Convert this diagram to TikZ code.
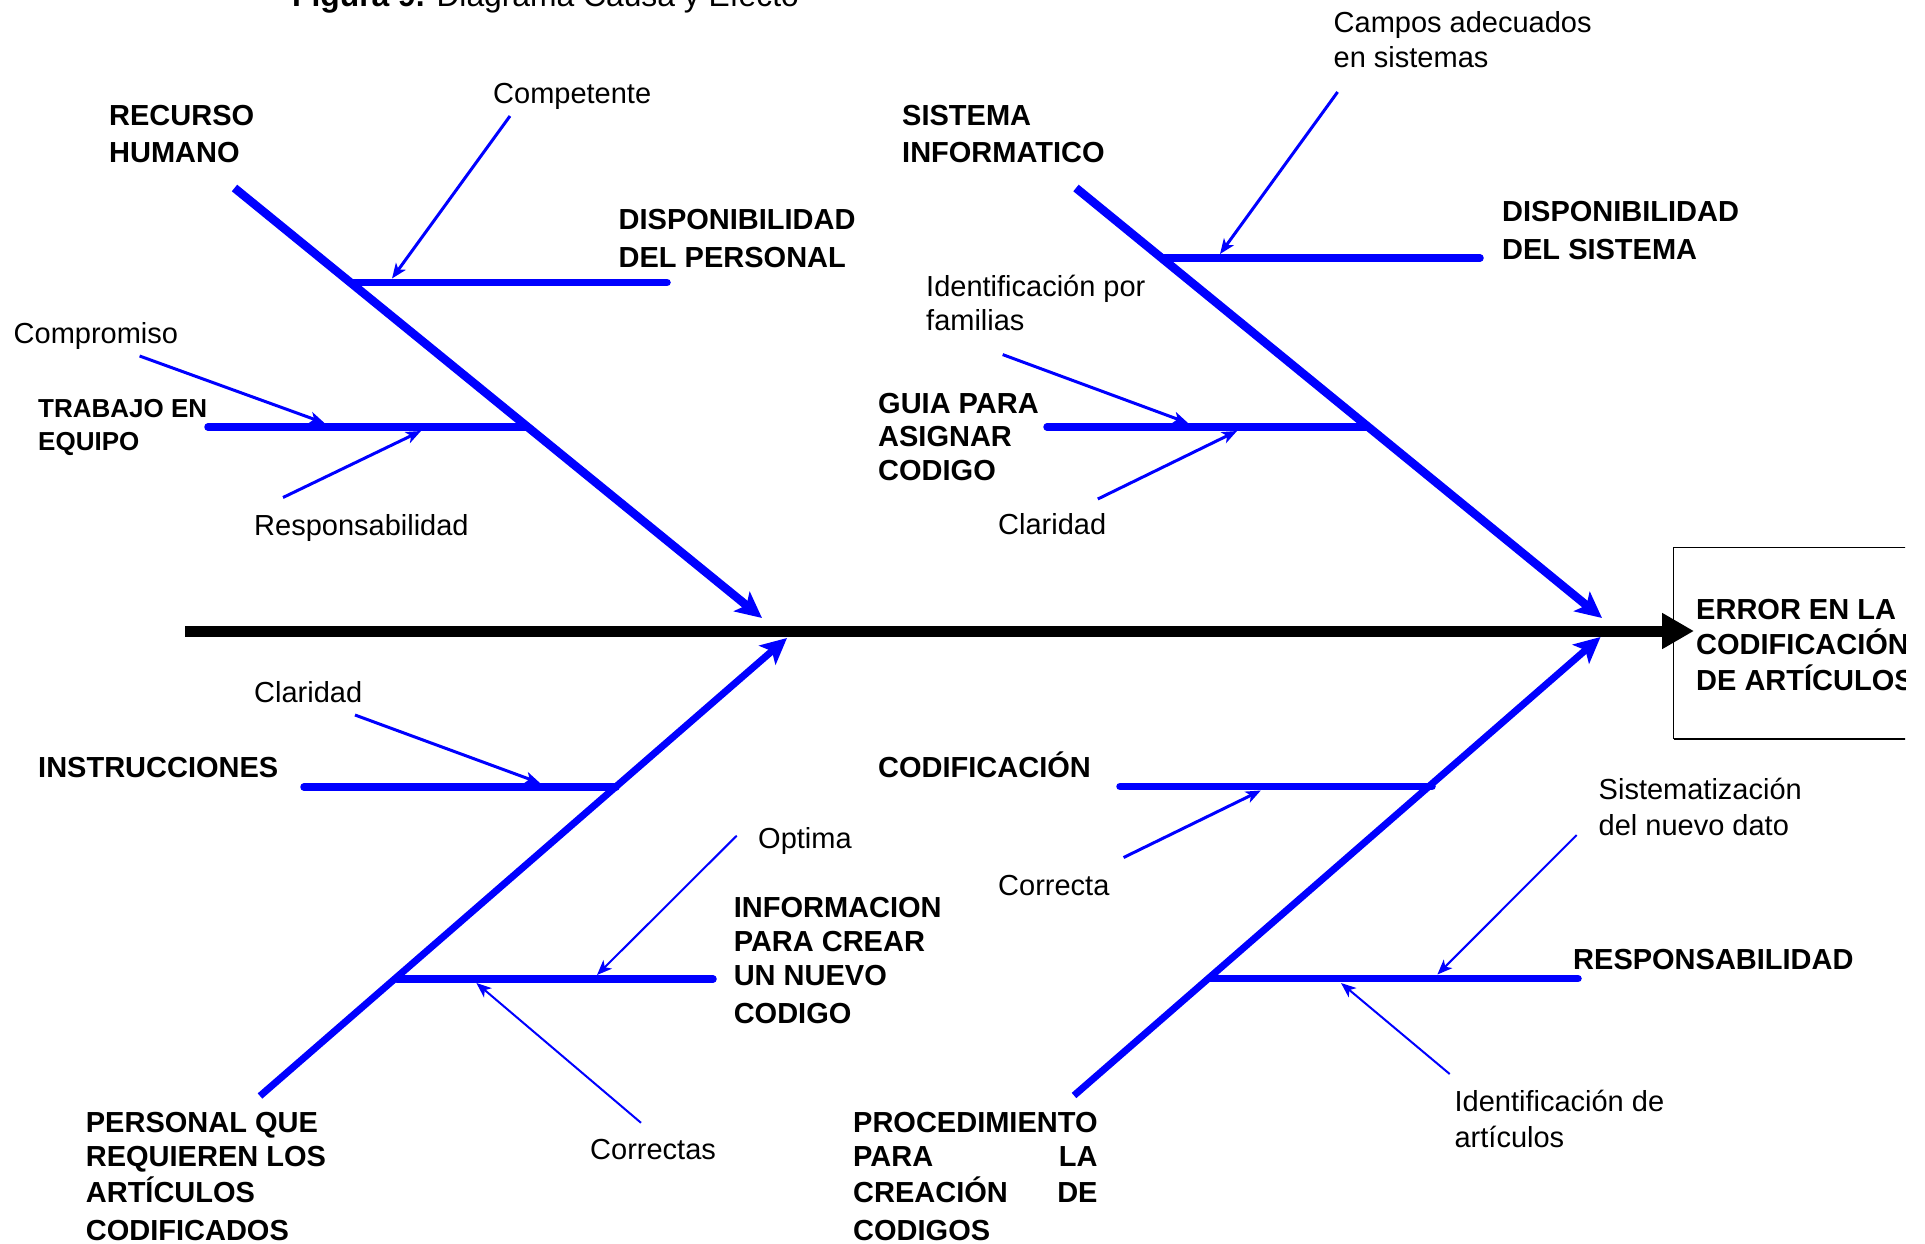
\documentclass[tikz,border=0pt]{standalone}
\usepackage{fontspec}
\setmainfont{Liberation Sans}
\usetikzlibrary{arrows.meta}
\newlength\procw
% multi-line label whose baseline is that of its first line
\newcommand\lns[1]{\begin{tabular}[t]{@{}l@{}}#1\end{tabular}}
\begin{document}
\begin{tikzpicture}[x=1pt,y=-1pt,
  spine/.style={draw=black, line width=11pt, -{Triangle[length=32pt,width=34pt]}},
  bone/.style={draw=blue, line width=8.5pt, -{Stealth[length=26pt,width=25pt,inset=6pt]}},
  lowbone/.style={bone, line width=7pt},
  sub/.style={draw=blue, line width=7.5pt, line cap=round},
  cause/.style={draw=blue, line width=3pt, -{Stealth[length=15pt,width=12pt,inset=4pt]}},
  causethin/.style={cause, line width=2pt},
  lbl/.style={inner sep=0pt, anchor=base west, align=left},
  head/.style={lbl, font=\fontsize{29}{37.5}\selectfont\bfseries},
  note/.style={lbl, font=\fontsize{29}{35.5}\selectfont},
]
\useasboundingbox (0,0) rectangle (1925,1244);

% title
\node[lbl, font=\fontsize{31.8}{36}\selectfont] (title) at (292,7)
  {{\bfseries Figura 9.} Diagrama Causa y Efecto};

% effect box, running off the right edge
\begin{scope}
\clip (0,0) rectangle (1905,1244);
\draw[line width=1.5pt] (1935,547.3) -- (1673.7,547.3) -- (1673.7,739);
\draw[line width=2.2pt] (1673.7,739) -- (1935,739);
\node[head, font=\fontsize{29}{32}\selectfont\bfseries] (effect) at (1696,619.5)
  {\lns{ERROR EN LA\\CODIFICACIÓN\\DE ARTÍCULOS}};
\end{scope}

% spine
\coordinate (s0) at (185,631);
\coordinate (s1) at (1694,631);
\draw[spine] (s0) -- (s1);

% main bones
\coordinate (ul0) at (234.5,188);  \coordinate (ul1) at (762,618);
\coordinate (ur0) at (1076,188);   \coordinate (ur1) at (1602,618);
\coordinate (ll0) at (260,1096);   \coordinate (ll1) at (787,638);
\coordinate (lr0) at (1074,1095.5);\coordinate (lr1) at (1600.5,637);
\draw[bone] (ul0) -- (ul1);
\draw[bone] (ur0) -- (ur1);
\draw[lowbone] (ll0) -- (ll1);
\draw[lowbone] (lr0) -- (lr1);

% secondary bones
\coordinate (dp0) at (351,282.5);   \coordinate (dp1) at (667,282.5);
\coordinate (te0) at (208,427);     \coordinate (te1) at (526,427);
\coordinate (ds0) at (1163,258);    \coordinate (ds1) at (1480,258);
\coordinate (ga0) at (1047,427);    \coordinate (ga1) at (1366,427);
\coordinate (in0) at (304,787);     \coordinate (in1) at (616,787);
\coordinate (ic0) at (397,979);     \coordinate (ic1) at (713,979);
\coordinate (co0) at (1120,786.5);  \coordinate (co1) at (1432,786.5);
\coordinate (re0) at (1210,978.7);  \coordinate (re1) at (1578,978.7);
\foreach \a in {dp,te,ds,ga,in,ic,co,re} \draw[sub] (\a0) -- (\a1);

% cause arrows
\coordinate (c1a) at (510,116);     \coordinate (c1b) at (392,278.5);
\coordinate (c2a) at (139.6,356);   \coordinate (c2b) at (324.5,423);
\coordinate (c3a) at (283,497.5);   \coordinate (c3b) at (421,431);
\coordinate (c4a) at (1337.6,92);   \coordinate (c4b) at (1220,254);
\coordinate (c5a) at (1002.7,354.6);\coordinate (c5b) at (1188,423);
\coordinate (c6a) at (1097.8,499);  \coordinate (c6b) at (1237,431);
\coordinate (c7a) at (355,715);     \coordinate (c7b) at (540,783);
\coordinate (c8a) at (736.7,835.7); \coordinate (c8b) at (597,975);
\coordinate (c9a) at (641,1122.8);  \coordinate (c9b) at (476.4,983);
\coordinate (c10a) at (1123.6,857.5);\coordinate (c10b) at (1260.8,790.5);
\coordinate (c11a) at (1576.7,835); \coordinate (c11b) at (1437.4,974.5);
\coordinate (c12a) at (1449.7,1074);\coordinate (c12b) at (1341,983);
\foreach \i in {1,2,3,4,5,6,7,10} \draw[cause] (c\i a) -- (c\i b);
\foreach \i in {8,9,11,12} \draw[causethin] (c\i a) -- (c\i b);

% labels of the upper half
\node[note] (competente) at (493,104) {Competente};
\node[head] (recurso) at (109,125.5) {\lns{RECURSO\\HUMANO}};
\node[head] (disppers) at (618.5,229.5) {\lns{DISPONIBILIDAD\\DEL PERSONAL}};
\node[note] (compromiso) at (13.5,343.5) {Compromiso};
\node[head, font=\fontsize{26}{33}\selectfont\bfseries] (trabajo) at (38,417)
  {\lns{TRABAJO EN\\EQUIPO}};
\node[note] (respons) at (254,535.5) {Responsabilidad};
\node[note] (campos) at (1333.5,32.5) {\lns{Campos adecuados\\en sistemas}};
\node[head] (sistema) at (902,125.5) {\lns{SISTEMA\\INFORMATICO}};
\node[head] (dispsis) at (1502,221.5) {\lns{DISPONIBILIDAD\\DEL SISTEMA}};
\node[note, font=\fontsize{29}{34}\selectfont] (identfam) at (926,296.5)
  {\lns{Identificación por\\familias}};
\node[head, font=\fontsize{29}{33.7}\selectfont\bfseries] (guia) at (878,413)
  {\lns{GUIA PARA\\ASIGNAR\\CODIGO}};
\node[note] (claridadA) at (998,534.5) {Claridad};

% labels of the lower half
\node[note] (claridadB) at (254,702.5) {Claridad};
\node[head] (instr) at (38,777) {INSTRUCCIONES};
\node[note] (optima) at (758,848.5) {Optima};
\node[head, font=\fontsize{29}{34}\selectfont\bfseries] (infor) at (733.6,917.5)
  {\lns{INFORMACION\\PARA CREAR\\UN NUEVO\\[4pt]CODIGO}};
\node[note] (correctas) at (590,1159.5) {Correctas};
\node[head, font=\fontsize{29}{34}\selectfont\bfseries] (personal) at (85.7,1132.5)
  {\lns{PERSONAL QUE\\REQUIEREN LOS\\ARTÍCULOS\\[4pt]CODIFICADOS}};
\node[head] (codif) at (878,777.5) {CODIFICACIÓN};
\node[note] (correcta) at (998,895.5) {Correcta};
\node[head] (resp) at (1573,969) {RESPONSABILIDAD};
\node[note, font=\fontsize{29}{36}\selectfont] (sistemat) at (1598.5,799.5)
  {\lns{Sistematización\\del nuevo dato}};
\node[note, font=\fontsize{29}{36}\selectfont] (identart) at (1454.4,1111.5)
  {\lns{Identificación de\\artículos}};
\node[head, font=\fontsize{29}{34}\selectfont\bfseries] (proced) at (853,1132.5)
  {\settowidth\procw{PROCEDIMIENTO}%
   \lns{PROCEDIMIENTO\\\hbox to \procw{PARA\hfill LA}\\
        \hbox to \procw{CREACIÓN\hfill DE}\\[4pt]CODIGOS}};
\end{tikzpicture}
\end{document}
